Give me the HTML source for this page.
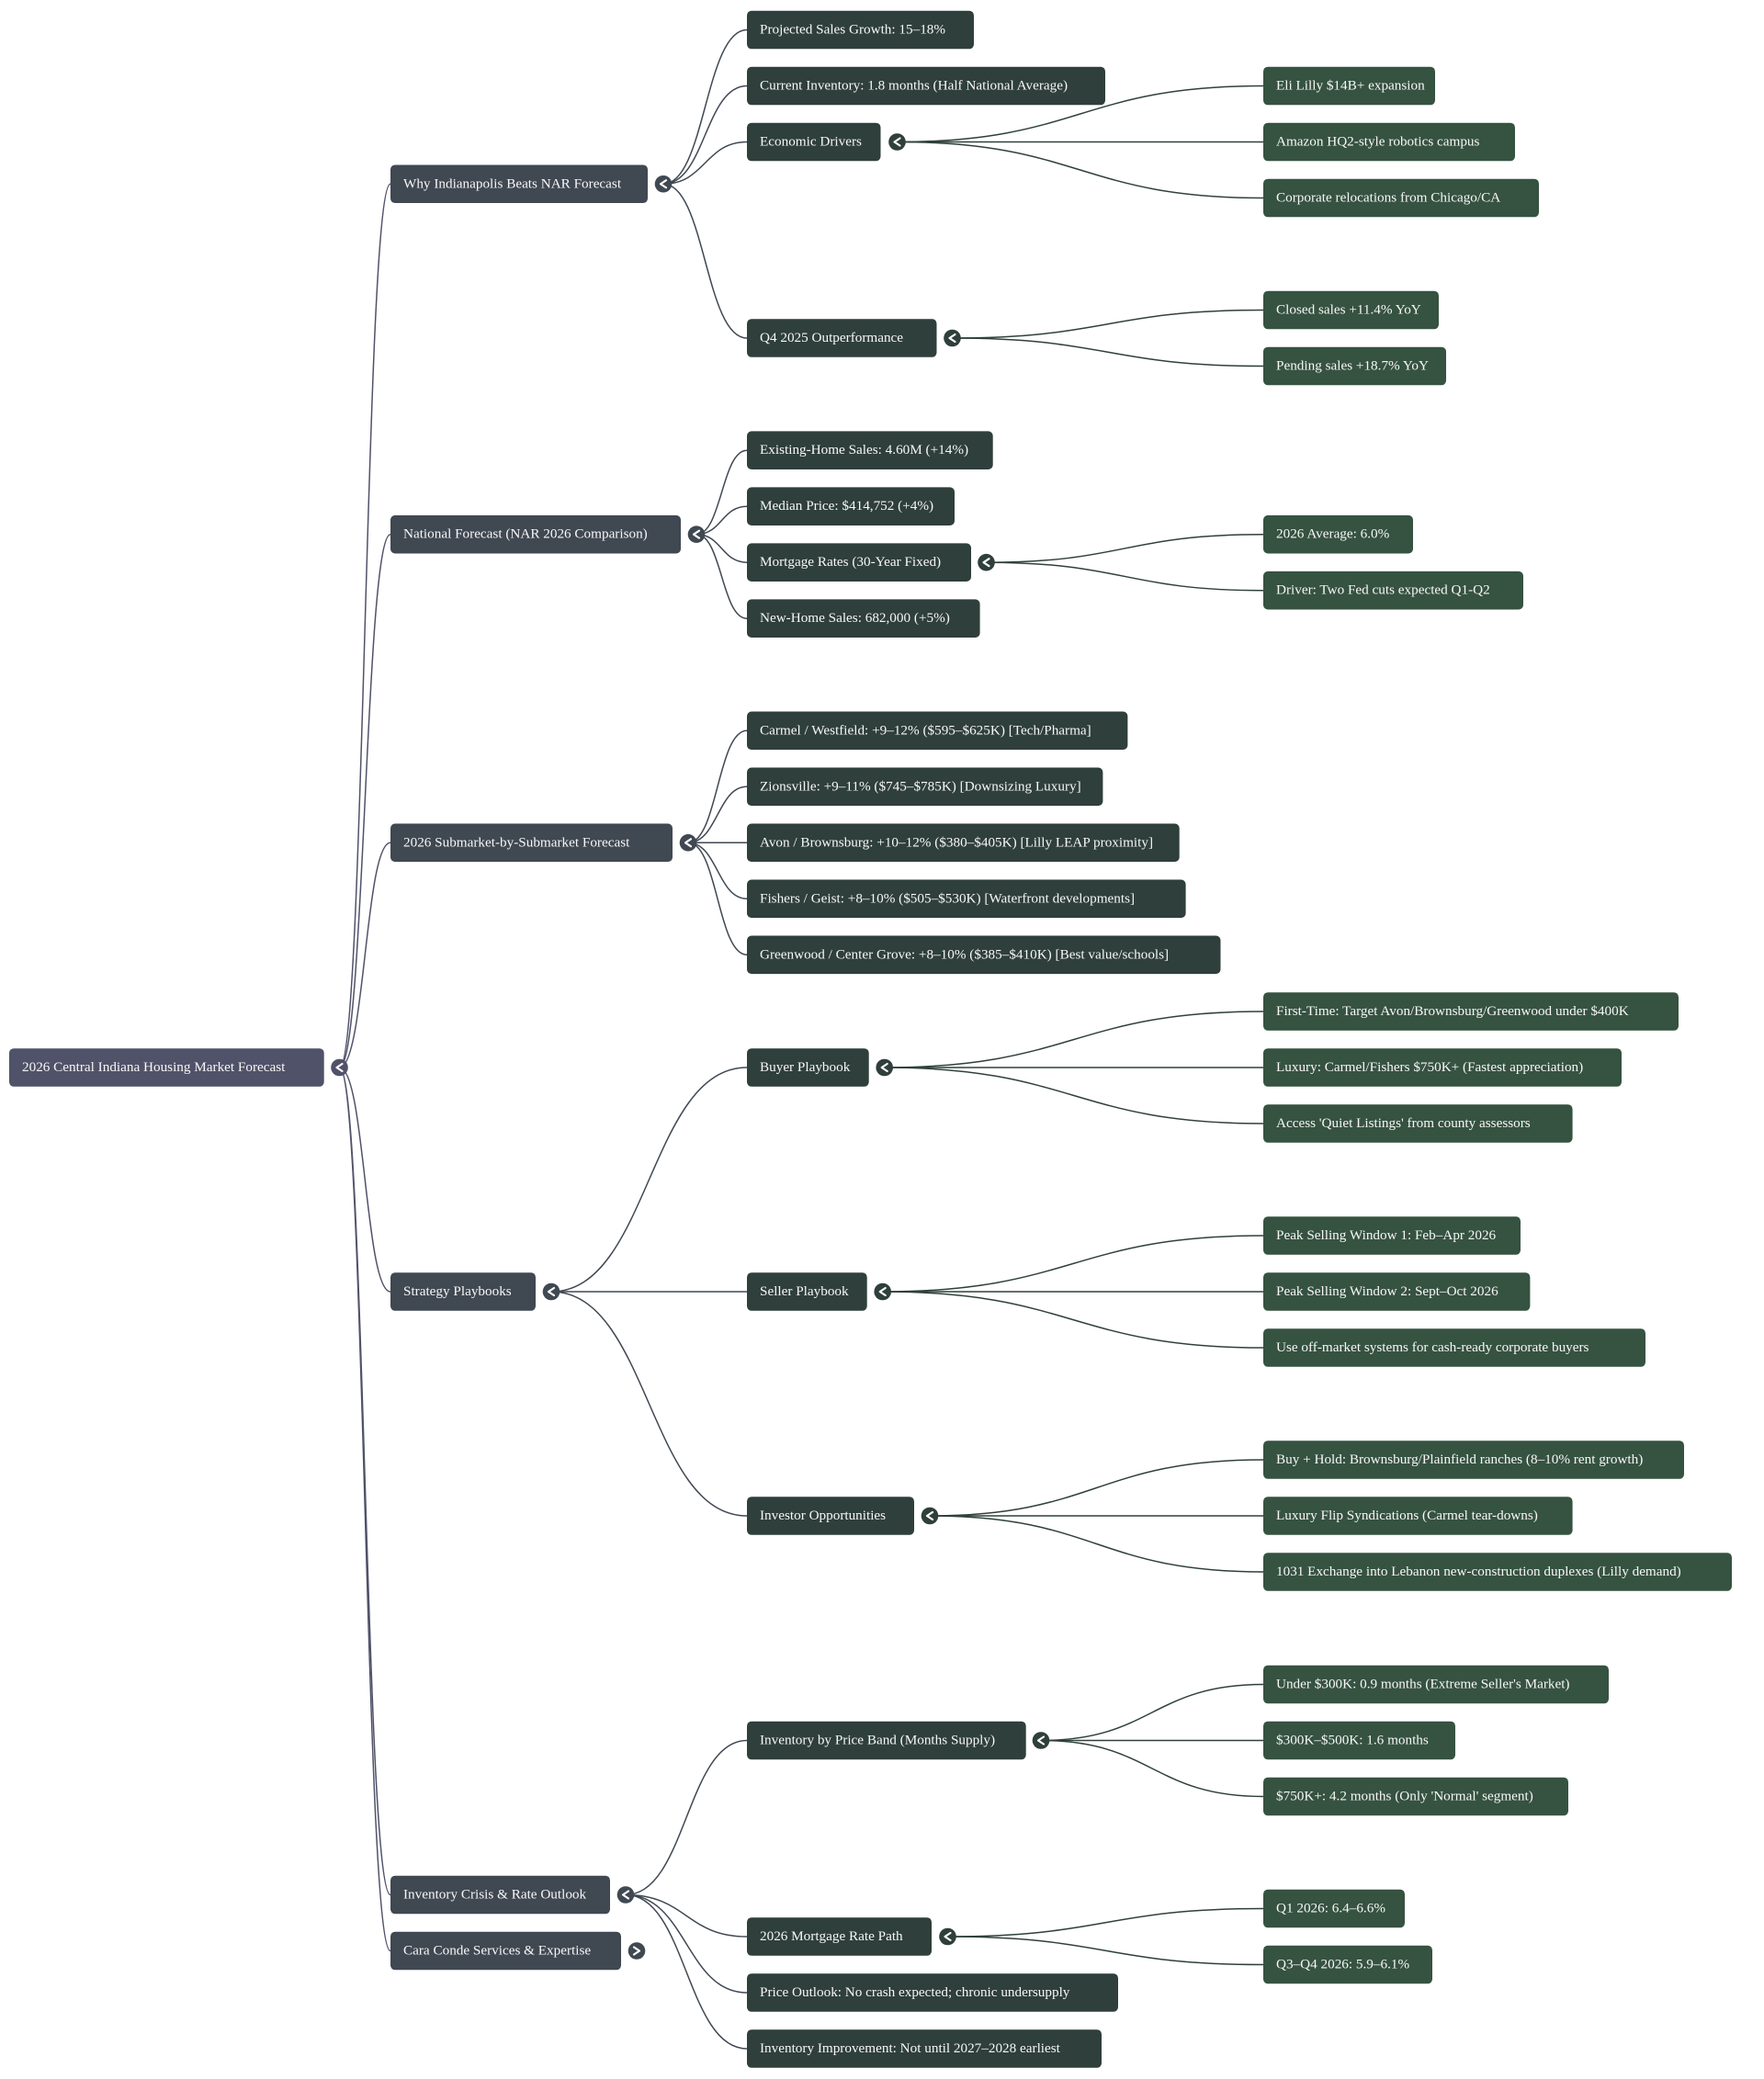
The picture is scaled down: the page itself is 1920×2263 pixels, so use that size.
<!DOCTYPE html>
<html>
<head>
<meta charset="utf-8">
<style>
  html, body { margin: 0; padding: 0; background: #ffffff; }
  body { width: 1920px; height: 2263px; overflow: hidden; }
  svg { display: block; }
  text { font-family: "Liberation Serif", "Times New Roman", serif; font-size: 15.2px; fill: #f7f7f7; }
</style>
</head>
<body>
<svg width="1920" height="2263" viewBox="0 0 1920 2263" xmlns="http://www.w3.org/2000/svg">
  <rect x="0" y="0" width="1920" height="2263" fill="#ffffff"/>

  <!-- Root -> L1 edges -->
  <g fill="none" stroke="#505269" stroke-width="1.5">
    <path d="M369.5 1162 C397.25 1162 397.25 200.25 425 200.25"/>
    <path d="M369.5 1162 C397.25 1162 397.25 581.7 425 581.7"/>
    <path d="M369.5 1162 C397.25 1162 397.25 917.3 425 917.3"/>
    <path d="M369.5 1162 C397.25 1162 397.25 1406 425 1406"/>
    <path d="M369.5 1162 C397.25 1162 397.25 2062.5 425 2062.5"/>
    <path d="M369.5 1162 C397.25 1162 397.25 2123.5 425 2123.5"/>
  </g>

  <!-- L1 -> L2 edges -->
  <g fill="none" stroke="#404852" stroke-width="1.5">
    <path d="M722 200.25 C767.5 200.25 767.5 32.5 813 32.5"/>
    <path d="M722 200.25 C767.5 200.25 767.5 93.5 813 93.5"/>
    <path d="M722 200.25 C767.5 200.25 767.5 154.5 813 154.5"/>
    <path d="M722 200.25 C767.5 200.25 767.5 368 813 368"/>

    <path d="M758 581.7 C785.5 581.7 785.5 490.2 813 490.2"/>
    <path d="M758 581.7 C785.5 581.7 785.5 551.2 813 551.2"/>
    <path d="M758 581.7 C785.5 581.7 785.5 612.2 813 612.2"/>
    <path d="M758 581.7 C785.5 581.7 785.5 673.2 813 673.2"/>

    <path d="M749 917.3 C781 917.3 781 795.3 813 795.3"/>
    <path d="M749 917.3 C781 917.3 781 856.3 813 856.3"/>
    <path d="M749 917.3 C781 917.3 781 917.3 813 917.3"/>
    <path d="M749 917.3 C781 917.3 781 978.3 813 978.3"/>
    <path d="M749 917.3 C781 917.3 781 1039.3 813 1039.3"/>

    <path d="M600 1406 C706.5 1406 706.5 1162 813 1162"/>
    <path d="M600 1406 C706.5 1406 706.5 1406 813 1406"/>
    <path d="M600 1406 C706.5 1406 706.5 1650 813 1650"/>

    <path d="M681 2062.5 C747 2062.5 747 1894.5 813 1894.5"/>
    <path d="M681 2062.5 C747 2062.5 747 2108 813 2108"/>
    <path d="M681 2062.5 C747 2062.5 747 2169 813 2169"/>
    <path d="M681 2062.5 C747 2062.5 747 2230 813 2230"/>
  </g>

  <!-- L2 -> L3 edges -->
  <g fill="none" stroke="#2f413c" stroke-width="1.5">
    <path d="M976.5 154.5 C1175.75 154.5 1175.75 93.5 1375 93.5"/>
    <path d="M976.5 154.5 C1175.75 154.5 1175.75 154.5 1375 154.5"/>
    <path d="M976.5 154.5 C1175.75 154.5 1175.75 215.5 1375 215.5"/>

    <path d="M1036.5 368 C1205.75 368 1205.75 337.5 1375 337.5"/>
    <path d="M1036.5 368 C1205.75 368 1205.75 398.5 1375 398.5"/>

    <path d="M1073.5 612.2 C1224.25 612.2 1224.25 581.7 1375 581.7"/>
    <path d="M1073.5 612.2 C1224.25 612.2 1224.25 642.7 1375 642.7"/>

    <path d="M962.7 1162 C1168.85 1162 1168.85 1101 1375 1101"/>
    <path d="M962.7 1162 C1168.85 1162 1168.85 1162 1375 1162"/>
    <path d="M962.7 1162 C1168.85 1162 1168.85 1223 1375 1223"/>

    <path d="M960.7 1406 C1167.85 1406 1167.85 1345 1375 1345"/>
    <path d="M960.7 1406 C1167.85 1406 1167.85 1406 1375 1406"/>
    <path d="M960.7 1406 C1167.85 1406 1167.85 1467 1375 1467"/>

    <path d="M1012 1650 C1193.5 1650 1193.5 1589 1375 1589"/>
    <path d="M1012 1650 C1193.5 1650 1193.5 1650 1375 1650"/>
    <path d="M1012 1650 C1193.5 1650 1193.5 1711 1375 1711"/>

    <path d="M1133 1894.5 C1254 1894.5 1254 1833.5 1375 1833.5"/>
    <path d="M1133 1894.5 C1254 1894.5 1254 1894.5 1375 1894.5"/>
    <path d="M1133 1894.5 C1254 1894.5 1254 1955.5 1375 1955.5"/>

    <path d="M1031.5 2108 C1203.25 2108 1203.25 2077.5 1375 2077.5"/>
    <path d="M1031.5 2108 C1203.25 2108 1203.25 2138.5 1375 2138.5"/>
  </g>

  <!-- Root node -->
  <rect x="10" y="1141.2" width="342.7" height="41.6" rx="5" fill="#505269"/>
  <text x="24" y="1166">2026 Central Indiana Housing Market Forecast</text>

  <!-- L1 nodes -->
  <g fill="#404852">
    <rect x="425" y="179.45" width="280" height="41.6" rx="5"/>
    <rect x="425" y="560.9" width="316" height="41.6" rx="5"/>
    <rect x="425" y="896.5" width="307" height="41.6" rx="5"/>
    <rect x="425" y="1385.2" width="158" height="41.6" rx="5"/>
    <rect x="425" y="2041.7" width="239" height="41.6" rx="5"/>
    <rect x="425" y="2102.7" width="251" height="41.6" rx="5"/>
  </g>
  <text x="439" y="204.25">Why Indianapolis Beats NAR Forecast</text>
  <text x="439" y="585.7">National Forecast (NAR 2026 Comparison)</text>
  <text x="439" y="921.3">2026 Submarket-by-Submarket Forecast</text>
  <text x="439" y="1410">Strategy Playbooks</text>
  <text x="439" y="2066.5">Inventory Crisis &amp; Rate Outlook</text>
  <text x="439" y="2127.5">Cara Conde Services &amp; Expertise</text>

  <!-- L2 nodes -->
  <g fill="#2f3f3b">
    <rect x="813" y="11.7" width="247" height="41.6" rx="5"/>
    <rect x="813" y="72.7" width="390" height="41.6" rx="5"/>
    <rect x="813" y="133.7" width="145.5" height="41.6" rx="5"/>
    <rect x="813" y="347.2" width="206.5" height="41.6" rx="5"/>

    <rect x="813" y="469.4" width="267.7" height="41.6" rx="5"/>
    <rect x="813" y="530.4" width="226" height="41.6" rx="5"/>
    <rect x="813" y="591.4" width="244" height="41.6" rx="5"/>
    <rect x="813" y="652.4" width="253.6" height="41.6" rx="5"/>

    <rect x="813" y="774.5" width="414.4" height="41.6" rx="5"/>
    <rect x="813" y="835.5" width="387.4" height="41.6" rx="5"/>
    <rect x="813" y="896.5" width="470.7" height="41.6" rx="5"/>
    <rect x="813" y="957.5" width="477.6" height="41.6" rx="5"/>
    <rect x="813" y="1018.5" width="515.5" height="41.6" rx="5"/>

    <rect x="813" y="1141.2" width="132.7" height="41.6" rx="5"/>
    <rect x="813" y="1385.2" width="130.7" height="41.6" rx="5"/>
    <rect x="813" y="1629.2" width="182" height="41.6" rx="5"/>

    <rect x="813" y="1873.7" width="303.7" height="41.6" rx="5"/>
    <rect x="813" y="2087.2" width="201" height="41.6" rx="5"/>
    <rect x="813" y="2148.2" width="404" height="41.6" rx="5"/>
    <rect x="813" y="2209.2" width="386" height="41.6" rx="5"/>
  </g>
  <text x="827" y="36.5">Projected Sales Growth: 15–18%</text>
  <text x="827" y="97.5">Current Inventory: 1.8 months (Half National Average)</text>
  <text x="827" y="158.5">Economic Drivers</text>
  <text x="827" y="372">Q4 2025 Outperformance</text>

  <text x="827" y="494.2">Existing-Home Sales: 4.60M (+14%)</text>
  <text x="827" y="555.2">Median Price: $414,752 (+4%)</text>
  <text x="827" y="616.2">Mortgage Rates (30-Year Fixed)</text>
  <text x="827" y="677.2">New-Home Sales: 682,000 (+5%)</text>

  <text x="827" y="799.3">Carmel / Westfield: +9–12% ($595–$625K) [Tech/Pharma]</text>
  <text x="827" y="860.3">Zionsville: +9–11% ($745–$785K) [Downsizing Luxury]</text>
  <text x="827" y="921.3">Avon / Brownsburg: +10–12% ($380–$405K) [Lilly LEAP proximity]</text>
  <text x="827" y="982.3">Fishers / Geist: +8–10% ($505–$530K) [Waterfront developments]</text>
  <text x="827" y="1043.3">Greenwood / Center Grove: +8–10% ($385–$410K) [Best value/schools]</text>

  <text x="827" y="1166">Buyer Playbook</text>
  <text x="827" y="1410">Seller Playbook</text>
  <text x="827" y="1654">Investor Opportunities</text>

  <text x="827" y="1898.5">Inventory by Price Band (Months Supply)</text>
  <text x="827" y="2112">2026 Mortgage Rate Path</text>
  <text x="827" y="2173">Price Outlook: No crash expected; chronic undersupply</text>
  <text x="827" y="2234">Inventory Improvement: Not until 2027–2028 earliest</text>

  <!-- L3 nodes -->
  <g fill="#365241">
    <rect x="1375" y="72.7" width="187" height="41.6" rx="5"/>
    <rect x="1375" y="133.7" width="274" height="41.6" rx="5"/>
    <rect x="1375" y="194.7" width="300" height="41.6" rx="5"/>
    <rect x="1375" y="316.7" width="191" height="41.6" rx="5"/>
    <rect x="1375" y="377.7" width="199" height="41.6" rx="5"/>

    <rect x="1375" y="560.9" width="163" height="41.6" rx="5"/>
    <rect x="1375" y="621.9" width="283" height="41.6" rx="5"/>

    <rect x="1375" y="1080.2" width="452" height="41.6" rx="5"/>
    <rect x="1375" y="1141.2" width="390" height="41.6" rx="5"/>
    <rect x="1375" y="1202.2" width="336.6" height="41.6" rx="5"/>

    <rect x="1375" y="1324.2" width="280" height="41.6" rx="5"/>
    <rect x="1375" y="1385.2" width="290.4" height="41.6" rx="5"/>
    <rect x="1375" y="1446.2" width="416" height="41.6" rx="5"/>

    <rect x="1375" y="1568.2" width="458" height="41.6" rx="5"/>
    <rect x="1375" y="1629.2" width="336.6" height="41.6" rx="5"/>
    <rect x="1375" y="1690.2" width="510" height="41.6" rx="5"/>

    <rect x="1375" y="1812.7" width="376" height="41.6" rx="5"/>
    <rect x="1375" y="1873.7" width="209" height="41.6" rx="5"/>
    <rect x="1375" y="1934.7" width="332" height="41.6" rx="5"/>

    <rect x="1375" y="2056.7" width="154" height="41.6" rx="5"/>
    <rect x="1375" y="2117.7" width="184" height="41.6" rx="5"/>
  </g>
  <text x="1389" y="97.5">Eli Lilly $14B+ expansion</text>
  <text x="1389" y="158.5">Amazon HQ2-style robotics campus</text>
  <text x="1389" y="219.5">Corporate relocations from Chicago/CA</text>
  <text x="1389" y="341.5">Closed sales +11.4% YoY</text>
  <text x="1389" y="402.5">Pending sales +18.7% YoY</text>

  <text x="1389" y="585.7">2026 Average: 6.0%</text>
  <text x="1389" y="646.7">Driver: Two Fed cuts expected Q1-Q2</text>

  <text x="1389" y="1105">First-Time: Target Avon/Brownsburg/Greenwood under $400K</text>
  <text x="1389" y="1166">Luxury: Carmel/Fishers $750K+ (Fastest appreciation)</text>
  <text x="1389" y="1227">Access 'Quiet Listings' from county assessors</text>

  <text x="1389" y="1349">Peak Selling Window 1: Feb–Apr 2026</text>
  <text x="1389" y="1410">Peak Selling Window 2: Sept–Oct 2026</text>
  <text x="1389" y="1471">Use off-market systems for cash-ready corporate buyers</text>

  <text x="1389" y="1593">Buy + Hold: Brownsburg/Plainfield ranches (8–10% rent growth)</text>
  <text x="1389" y="1654">Luxury Flip Syndications (Carmel tear-downs)</text>
  <text x="1389" y="1715">1031 Exchange into Lebanon new-construction duplexes (Lilly demand)</text>

  <text x="1389" y="1837.5">Under $300K: 0.9 months (Extreme Seller's Market)</text>
  <text x="1389" y="1898.5">$300K–$500K: 1.6 months</text>
  <text x="1389" y="1959.5">$750K+: 4.2 months (Only 'Normal' segment)</text>

  <text x="1389" y="2081.5">Q1 2026: 6.4–6.6%</text>
  <text x="1389" y="2142.5">Q3–Q4 2026: 5.9–6.1%</text>

  <!-- Collapse/expand circles -->
  <g stroke="#ffffff" stroke-width="2.2" fill="none" stroke-linecap="round" stroke-linejoin="round">
    <circle cx="369.5" cy="1162" r="9.3" fill="#505269" stroke="none"/>
    <path d="M372.5 1158 L366.5 1162 L372.5 1166"/>

    <circle cx="722" cy="200.25" r="9.3" fill="#404852" stroke="none"/>
    <path d="M725 196.25 L719 200.25 L725 204.25"/>
    <circle cx="758" cy="581.7" r="9.3" fill="#404852" stroke="none"/>
    <path d="M761 577.7 L755 581.7 L761 585.7"/>
    <circle cx="749" cy="917.3" r="9.3" fill="#404852" stroke="none"/>
    <path d="M752 913.3 L746 917.3 L752 921.3"/>
    <circle cx="600" cy="1406" r="9.3" fill="#404852" stroke="none"/>
    <path d="M603 1402 L597 1406 L603 1410"/>
    <circle cx="681" cy="2062.5" r="9.3" fill="#404852" stroke="none"/>
    <path d="M684 2058.5 L678 2062.5 L684 2066.5"/>
    <circle cx="693" cy="2123.5" r="9.3" fill="#404852" stroke="none"/>
    <path d="M690 2119.5 L696 2123.5 L690 2127.5"/>

    <circle cx="976.5" cy="154.5" r="9.3" fill="#2f3f3b" stroke="none"/>
    <path d="M979.5 150.5 L973.5 154.5 L979.5 158.5"/>
    <circle cx="1036.5" cy="368" r="9.3" fill="#2f3f3b" stroke="none"/>
    <path d="M1039.5 364 L1033.5 368 L1039.5 372"/>
    <circle cx="1073.5" cy="612.2" r="9.3" fill="#2f3f3b" stroke="none"/>
    <path d="M1076.5 608.2 L1070.5 612.2 L1076.5 616.2"/>
    <circle cx="962.7" cy="1162" r="9.3" fill="#2f3f3b" stroke="none"/>
    <path d="M965.7 1158 L959.7 1162 L965.7 1166"/>
    <circle cx="960.7" cy="1406" r="9.3" fill="#2f3f3b" stroke="none"/>
    <path d="M963.7 1402 L957.7 1406 L963.7 1410"/>
    <circle cx="1012" cy="1650" r="9.3" fill="#2f3f3b" stroke="none"/>
    <path d="M1015 1646 L1009 1650 L1015 1654"/>
    <circle cx="1133" cy="1894.5" r="9.3" fill="#2f3f3b" stroke="none"/>
    <path d="M1136 1890.5 L1130 1894.5 L1136 1898.5"/>
    <circle cx="1031.5" cy="2108" r="9.3" fill="#2f3f3b" stroke="none"/>
    <path d="M1034.5 2104 L1028.5 2108 L1034.5 2112"/>
  </g>
</svg>
</body>
</html>
